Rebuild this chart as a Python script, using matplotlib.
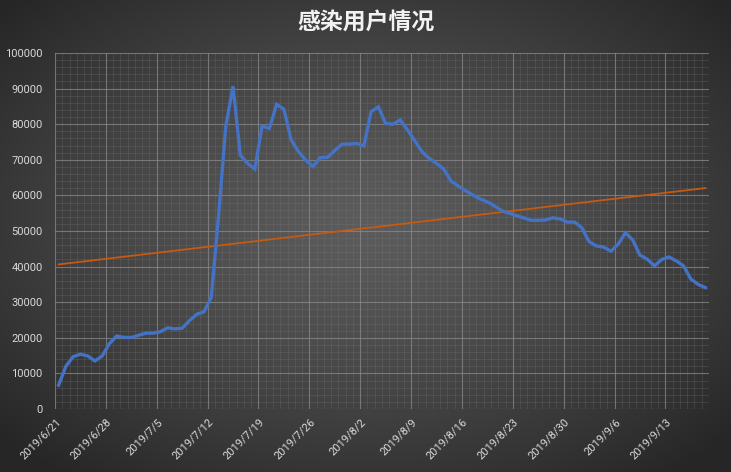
import numpy as np
import pandas as pd
import matplotlib
matplotlib.use("Agg")
import matplotlib.pyplot as plt
import matplotlib.dates as mdates
import matplotlib.transforms as mtransforms
from matplotlib.ticker import FixedLocator, MultipleLocator, FuncFormatter

# daily infected users, 2019/6/21 .. 2019/9/18
start_date = "2019-06-21"
infected = [
    6700, 12000, 14700, 15400, 14900, 13500, 14900, 18400, 20500, 20100,
    20100, 20700, 21300, 21300, 21700, 22800, 22500, 22700, 24800, 26600,
    27300, 31300, 54000, 79300, 90700, 71300, 69000, 67400, 79500, 78800,
    85600, 84200, 75600, 72300, 69900, 68100, 70600, 70700, 72600, 74400,
    74400, 74600, 73900, 83500, 84900, 80200, 80000, 81200, 78400, 75400,
    72300, 70400, 69000, 67400, 64000, 62600, 61300, 60100, 59000, 58200,
    57000, 55700, 55000, 54300, 53700, 53000, 53000, 53100, 53700, 53400,
    52500, 52500, 50900, 47000, 45800, 45500, 44300, 46300, 49500, 47500,
    43200, 42100, 40200, 42000, 42700, 41600, 40200, 36500, 35000, 34100,
]
title = "感染用户情况"

dates = pd.date_range(start_date, periods=len(infected), freq="D")
x = mdates.date2num(dates) + 0.5  # points sit in the middle of each day
x_min = mdates.date2num(dates[0])
x_max = mdates.date2num(dates[-1]) + 1
tick_dates = pd.date_range(start_date, dates[-1], freq="7D")

plt.rcParams["font.family"] = ["Roboto", "Noto Sans CJK SC", "DejaVu Sans"]

fig = plt.figure(figsize=(7.31, 4.72), dpi=100)

# dark radial background
bg = fig.add_axes([0, 0, 1, 1], zorder=-10)
gx, gy = np.meshgrid(np.linspace(-1, 1, 400), np.linspace(-1, 1, 300))
r = np.sqrt(gx ** 2 + (gy + 0.05) ** 2)
r = np.clip(r / 1.35, 0, 1)
c0, c1 = 0.36, 0.15
shade = c0 + (c1 - c0) * r ** 1.3
bg.imshow(np.dstack([shade] * 3), aspect="auto", extent=[0, 1, 0, 1])
bg.set_axis_off()

ax = fig.add_axes([55 / 731, 63 / 472, 654 / 731, 356 / 472])
ax.set_facecolor("none")

ax.plot(x, infected, color="#4472C4", lw=2.4, solid_joinstyle="miter", zorder=3)

slope, intercept = np.polyfit(np.arange(len(infected)), infected, 1)
trend = slope * np.arange(len(infected)) + intercept
ax.plot(x, trend, color="#C55A11", lw=1.3, zorder=2)

ax.set_xlim(x_min, x_max)
ax.set_ylim(0, 100000)
ax.yaxis.set_major_locator(MultipleLocator(10000))
ax.yaxis.set_minor_locator(MultipleLocator(2000))
ax.xaxis.set_major_locator(FixedLocator(mdates.date2num(tick_dates)))
ax.xaxis.set_minor_locator(MultipleLocator(1))
ax.xaxis.set_major_formatter(FuncFormatter(
    lambda v, pos: (lambda d: f"{d.year}/{d.month}/{d.day}")(mdates.num2date(v))))

ax.grid(which="major", color="#8a8a8a", lw=0.8, alpha=0.75)
ax.grid(which="minor", color="#7a7a7a", lw=0.5, alpha=0.35)
for s in ax.spines.values():
    s.set_visible(False)
ax.tick_params(which="both", length=0, colors="#d9d9d9", labelsize=8)
ax.tick_params(axis="y", pad=9)
ax.tick_params(axis="x", pad=8)
shift = mtransforms.ScaledTranslation(4 / 100, 0, fig.dpi_scale_trans)
for lbl in ax.get_xticklabels():
    lbl.set_rotation(45)
    lbl.set_rotation_mode("anchor")
    lbl.set_ha("right")
    lbl.set_va("center")
    lbl.set_transform(lbl.get_transform() + shift)

fig.text(0.5, 1 - 22 / 472, title, ha="center", va="center", color="#f2f2f2",
         fontsize=16.5, fontweight="bold", family=["Noto Sans CJK SC", "DejaVu Sans"])

fig.savefig("out.png", dpi=100)
